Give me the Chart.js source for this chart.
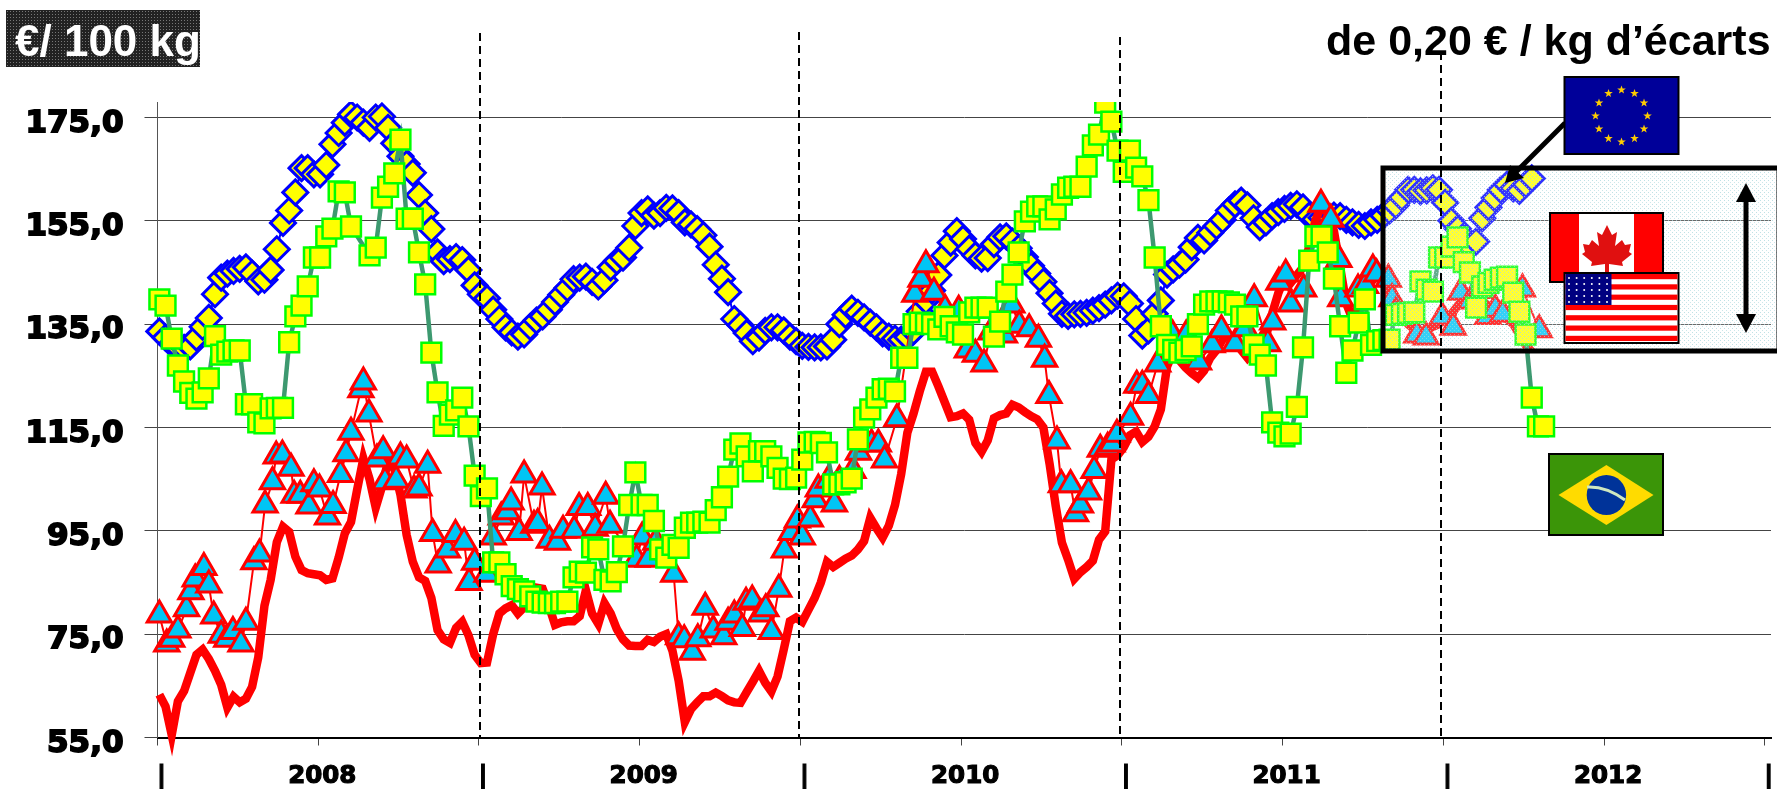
<!DOCTYPE html>
<html>
<head>
<meta charset="utf-8">
<script src="https://cdn.jsdelivr.net/npm/chart.js@4"></script>
<style>
  body { margin: 0; background: #fff; width: 1777px; height: 789px; overflow: hidden; position: relative; }
  canvas, svg { position: absolute; left: 0; top: 0; }
  .label { position: absolute; font-family: "Liberation Sans", Arial, sans-serif; font-weight: bold; font-size: 43px; white-space: nowrap; line-height: 50px; }
  #unit { left: 6px; top: 10px; width: 194px; height: 57px; box-sizing: border-box; padding: 6px 0 0 9px; font-size: 44px; color: #fff; background-color: #222; background-image: radial-gradient(#777 1px, transparent 1px); background-size: 3px 3px; }
  #gap { left: 1326px; top: 15px; color: #000; }
</style>
</head>
<body>
<canvas id="price_graph" width="1777" height="789"></canvas>
<svg id="overlay" width="1777" height="789"></svg>
<div id="unit" class="label">€/ 100 kg</div>
<div id="gap" class="label">de 0,20 € / kg d’écarts</div>
<script>
// weekly prices from January 2008, in euros per 100 kg
let eu_values = [133.6,132.4,131.2,130.5,130.4,130.7,132.4,134.5,136.2,140.8,144,144.8,145.3,145.7,146,144.8,143.3,143.6,145.5,149.5,154.6,157,160.5,165.2,165.2,164,164,165.8,169.8,172,174,175.6,175,174,173,175,175.2,173,170,167.5,166,164.3,160,156.5,153.4,148.9,147.2,147.6,148,147.4,145.5,142.5,140.8,140,137.8,136,134.4,133.4,132.6,133,134.5,135.7,136.5,137.8,139.3,140.7,142,143.7,144,144.2,143.2,142.3,143.5,146,147.2,147.9,149.8,154,156.5,157.2,156,156.5,157.5,157.4,156.5,154.7,154.3,153.4,152.2,150,146.5,143.8,141.2,136,134.8,133.3,131.7,132.4,133.7,134.4,134.4,133.8,132.6,131.7,130.8,130.6,130.5,130.5,130.7,132,135,136.8,138,137.2,136.3,135.3,134.4,133.2,132.6,132.2,132,132.5,133.6,137.5,139.5,141.5,144.5,148.3,150.8,153,151.5,149.6,148.3,147.7,147.8,150.5,151.8,152,151,149.7,148,146.3,144.8,143.2,141,139,137,136.6,136.9,137,137.2,137.6,138.1,138.8,139.6,140.5,140.4,139,136,132.8,133.8,137,139.6,144.6,145.6,146.5,147.5,149.9,151.7,151.2,152.7,154,155.2,157,158.2,158.9,158,155.5,153.8,154.7,155.9,156.7,157.3,157.9,158.2,157.6,156,155.3,155.6,155.9,156,155.9,155.2,154.7,154.2,154,154.7,155.2,156,157,158,159.5,161,161,160.7,160.9,161.3,161,158.5,155,153.5,152,150,151,155.5,157.6,159.4,161,162,161.3,160.8,162,163.2];
let brazil_values = [139.8,138.6,132.2,127,123.9,121.7,120.6,121.8,124.5,132.7,129.1,129.7,129.9,129.9,119.5,119.5,116,115.8,118.7,118.8,118.8,131.5,136.5,138.6,142.3,147.9,147.9,152,153.5,160.7,160.5,153.9,null,null,148.3,149.8,159.5,161.6,164.2,170.7,155.4,155.4,148.9,142.7,129.5,121.8,115.3,117.5,118.3,120.8,115.2,105.7,101.7,103.2,88.9,88.9,86.6,84.3,83.7,83.3,82.3,81.3,81.1,81,81,81.3,81.3,86,87.1,86.9,91.8,91.4,85.5,85.2,87,92,100,106.3,100,100,96.9,91.4,89.8,92.3,91.7,95.6,96.6,96.6,96.8,96.6,99,101.5,105.5,110.7,111.9,109.4,106.5,110.4,110.4,109.4,107.2,105.1,105,105.3,108.8,112.1,112.2,112,110.2,104,104,104.4,105.1,112.7,116.9,118.5,120.8,122.4,122.5,122,128.5,128.5,135,135.3,135.2,135,134,136.4,134.6,133.4,133,137.3,138.2,138.2,138.2,132.6,135.5,141.3,144.6,148.9,154.9,156.8,157.8,157.8,155.3,157.2,160.1,161.4,161.6,161.6,165.5,169.6,171.7,177.9,174.2,168.6,164.5,168.6,165.3,163.6,159,147.9,134.6,131,130,129.5,130,130.7,135,138.8,139.4,139.4,139.4,139.2,138.8,136.5,136.5,131,129.1,127,116,114,113.3,113.8,119,130.5,147.3,152,152,148.9,143.8,134.6,125.6,129.9,135.3,139.8,131,131.7,131.9,132,136.8,137,137.2,137.3,143.3,141.7,141.3,147.9,147.9,150,151.8,147,145,138.2,142.3,143,143.6,144,144.2,141.1,137.4,133,120.8,115.2,115.2];
let canada_values = [63.3,61,55.5,62,64,67.5,71,72,70.2,67.9,65.2,60.8,62.9,61.8,62.5,64.8,70.5,80.5,85.5,92.8,95.8,94.8,90,87.4,86.8,86.6,86.4,85.5,85.8,89.8,94.5,96.7,103,109,105,99.5,103.5,108.5,107,102,94.2,89,86,85.3,82,75.8,74,73.3,76.2,77.4,74.8,71,69.4,69.5,75,79,80,80.6,79,80.2,82,84,83.8,80.5,76.8,77.3,77.5,77.5,78.5,83.5,79,77,81,79,76,74,72.8,72.7,72.7,73.9,73.5,74.5,75,71.8,66,58,60.5,61.8,63,63,63.7,63,62.2,61.8,61.7,63.8,65.8,67.9,65.6,63.9,66.8,72,77.5,78.2,77.4,79.7,82,85,89,88,88.8,89.6,90.2,91.4,93,97.5,95.5,93.7,96,100,106,114,117.7,122,125.8,125.8,123,120,117,117.2,117.7,116.5,112,110.3,112.5,116.8,117.4,117.7,119.4,118.9,118,117.2,116.6,115,108,99.8,92.7,89.4,85.7,87,88,89.2,93.3,94.9,108.8,109.6,111.2,113.5,114.2,112.2,113.2,115.2,118.5,126.8,129.6,128,126.6,125.5,124.6,126,128.5,130,132,133,132,130,128.5,130,132,134,137,141,144,143,144.5,146,150,155,158,156.5,153,146,139,136,139,141,143,145,143,140,138,136.5,135,134,133.5,134,134.5,135,136,137,138.5,140,141,140.5,139.5,138.5,138,137,136,135,133,131,129.7];
// usa has its own weeks because its points are not evenly spaced in the picture
let usa_weeks = [0.3,1.5,2.3,3.3,4.7,5.4,6.1,7.5,8.3,9.1,10.3,11.2,12.2,13.5,14.3,15.6,16.5,17.4,18.6,19.2,20.2,21.6,22.1,23.1,24.5,25.3,26.2,27.5,28.4,29.6,30.5,31.3,32.9,33.3,34.2,35.5,36.5,36.8,38.6,39.3,40.3,41.5,42.3,43.7,44.5,45.4,46.9,48.2,49.6,50.4,51.3,53.3,54.3,55.6,56.6,57.2,58.5,59.3,60.9,61.5,62.2,63.4,64.7,65.6,67.4,68.2,69.6,70.8,72.5,73.2,77.5,78.4,79.4,80.6,83.5,84.3,85.2,86.5,87.4,88.6,89.9,91.6,92.3,93.3,94.6,95.2,96.2,97.6,98.4,99.3,100.5,101.4,102.5,103.5,104.3,105.6,106.4,106.9,108.5,109.5,110.3,112.5,113.4,115.5,116.6,117.6,119.6,122.5,123.5,124.3,125.6,127.4,129.6,131,132.3,133.7,134.8,137,138.2,139.4,141,142.5,143.5,144.2,145.5,146.2,147.7,148.5,149.3,150.6,151.5,152.5,153.7,154.4,155.2,157.4,158.4,159.3,160.3,161.8,164.2,166.4,168.4,170.6,172.1,174.3,175.9,177.4,179.6,180.4,181.4,182.5,183.3,185.4,188.2,189.8,191.1,191.4,194.2,195.4,196.6,197.2,199.1,199.7,200.3,203.7,205.2,207.8,209.6,210.8,212.4,214,215.2,216.4,217.6,220.8,223.5];
let usa_values = [79.2,73.6,74.5,76.3,80.4,83.7,86.2,88.4,85,79,75.3,74.5,76,73.6,77.8,89.5,91,100.5,105,110,110.2,107.6,102.4,102.4,100.3,104.6,103.6,98.2,100.4,106.4,110.4,114.6,122.8,124.3,118.1,109.4,111,105,105.3,109.8,109.2,103.4,103.8,108.2,95,88.9,91.8,94.8,93.3,85.5,89.4,87.1,94.3,98.2,99.2,101.1,95.2,106.3,96.6,96.9,104,93.7,93.3,95.6,95.6,100,100,96,102.2,96.6,90,94.3,90,93.3,87.1,75,74.4,72,74.6,80.7,76.3,75,77.8,79.2,76.6,81.7,82.1,79.4,80.4,76,84.2,91.8,95.2,97.6,94.3,97.8,101.5,103.6,105.3,100.7,105.3,107.2,110.7,112.3,112.3,109.2,117.2,141.3,144.2,147,141.7,138.4,138.2,130.5,129.7,127.8,134,133.4,139.2,135.3,134.6,132.6,128.7,121.7,112.9,104.4,104.4,98.8,100.5,103,107.2,111.3,111.7,112.3,114.2,117.5,123.7,123.7,121.7,127.8,133.4,133.4,128.2,131.5,134.4,131.7,134.6,140.4,131.7,135.9,143.6,145.2,139.4,142.3,158.7,155.8,148,140.4,142.3,143,146.2,145.2,144.2,140.4,137.8,133.4,133,136.9,134.9,141.7,140,142,137,138.4,137.4,142.3,134.4];

let y_ticks       = [55,75,95,115,135,155,175];
let y_tick_labels = ["55,0","75,0","95,0","115,0","135,0","155,0","175,0"];
let x_ticks       = [0,26,52,78,104,130,156,182,208,234,260];
let x_tick_labels = ["|","2008","|","2009","|","2010","|","2011","|","2012","|"];

function weekly(values){
    let points = [];
    for (let i=0; i<values.length; i++){
        points.push({x: i + 0.3, y: values[i]});
    }
    return points;
}

function draw_price_graph(){
    let usa_points = [];
    for (let i=0; i<usa_weeks.length; i++){
        // read at the middle of the triangle, the library centres it a little lower
        usa_points.push({x: usa_weeks[i], y: usa_values[i] - 0.5});
    }
    const free_edges = {left: 30, top: 0, right: 30, bottom: 30};

    const ctx     = document.getElementById("price_graph").getContext("2d");
    const myChart = new Chart(ctx, {
        type: "line",
        data: {
            datasets: [
                {
                    label: "Brésil",
                    data: weekly(brazil_values),
                    borderColor: "#3d9970",
                    borderWidth: 4.5,
                    pointStyle: "rect",
                    pointRadius: 14,
                    pointBorderColor: "#00ff00",
                    pointBackgroundColor: "#ffff00",
                    pointBorderWidth: 2.5,
                    spanGaps: true,
                    clip: free_edges,
                    order: 1
                },
                {
                    label: "USA",
                    data: usa_points,
                    borderColor: "#ff0000",
                    borderWidth: 2,
                    pointStyle: "triangle",
                    pointRadius: 14,
                    pointBorderColor: "#ff0000",
                    pointBackgroundColor: "#00c5f5",
                    pointBorderWidth: 3,
                    clip: free_edges,
                    order: 2
                },
                {
                    label: "Canada",
                    data: weekly(canada_values),
                    borderColor: "#ff0000",
                    borderWidth: 8.5,
                    pointRadius: 0,
                    clip: free_edges,
                    order: 3
                },
                {
                    label: "UE",
                    data: weekly(eu_values),
                    borderColor: "#0000ff",
                    borderWidth: 2,
                    pointStyle: "rectRot",
                    pointRadius: 12.5,
                    pointBorderColor: "#0000ff",
                    pointBackgroundColor: "#ffff00",
                    pointBorderWidth: 3,
                    clip: free_edges,
                    order: 4
                }
            ]
        },
        options: {
            responsive: false,
            animation: false,
            layout: {
                autoPadding: false,
                padding: {top: 102, right: 6}
            },
            elements: {
                line: {tension: 0}
            },
            scales: {
                x: {
                    type: "linear",
                    min: 0,
                    max: 261,
                    afterBuildTicks: (scale) => {
                        scale.ticks = x_ticks.map((v) => ({value: v}));
                    },
                    afterFit: (scale) => {
                        scale.height = 51.5;
                        // the label padding would otherwise eat into the right edge
                        scale.paddingLeft = 0;
                        scale.paddingRight = 0;
                    },
                    grid: {
                        drawOnChartArea: false,
                        tickLength: 8,
                        color: "#444"
                    },
                    border: {color: "#000", width: 2},
                    ticks: {
                        autoSkip: false,
                        maxRotation: 0,
                        padding: 16,
                        labelOffset: 4,
                        color: "#000",
                        textStrokeColor: "#000",
                        textStrokeWidth: 1.2,
                        font: {family: "DejaVu Sans", size: 24.5, weight: "bold"},
                        callback: (value, index) => x_tick_labels[index]
                    }
                },
                y: {
                    min: 55,
                    max: 178,
                    afterBuildTicks: (scale) => {
                        scale.ticks = y_ticks.map((v) => ({value: v}));
                    },
                    afterFit: (scale) => {
                        scale.width = 157.5;
                    },
                    grid: {
                        tickLength: 13,
                        color: "#444"
                    },
                    border: {color: "#555"},
                    ticks: {
                        padding: 21,
                        labelOffset: 6,
                        color: "#000",
                        textStrokeColor: "#000",
                        textStrokeWidth: 1.8,
                        font: {family: "DejaVu Sans", size: 31, weight: "bold"},
                        callback: (value, index) => y_tick_labels[index]
                    }
                }
            },
            plugins: {
                legend: {display: false},
                tooltip: {enabled: false}
            }
        }
    });
}

function star_points(cx, cy, r){
    let pts = [];
    for (let i=0; i<10; i++){
        let rad = i * Math.PI / 5 - Math.PI / 2;
        let len = i % 2 ? r * 0.4 : r;
        pts.push((cx + len * Math.cos(rad)).toFixed(1) + "," + (cy + len * Math.sin(rad)).toFixed(1));
    }
    return pts.join(" ");
}

function draw_overlay(){
    let svg = "";
    svg += '<defs><pattern id="hatch" width="4" height="4" patternUnits="userSpaceOnUse">'
         + '<rect width="4" height="4" fill="rgba(255,255,255,0.2)"/>'
         + '<rect width="1" height="1" fill="rgba(170,215,220,0.75)"/><rect x="2" y="2" width="1" height="1" fill="rgba(170,215,220,0.6)"/>'
         + '</pattern></defs>';

    // highlighted box first, the year separators run over it
    svg += '<rect x="1383" y="168" width="396" height="183" fill="url(#hatch)" stroke="#000" stroke-width="5"/>';

    let dashes = [[480,33],[799,32],[1120,37],[1441,52]];
    for (let d of dashes){
        svg += '<line x1="'+d[0]+'" y1="'+d[1]+'" x2="'+d[0]+'" y2="739" stroke="#000" stroke-width="2" stroke-dasharray="8 5"/>';
    }

    // EU flag and its arrow
    svg += '<line x1="1565" y1="123" x2="1515" y2="173" stroke="#000" stroke-width="5"/>';
    svg += '<polygon points="1505,183 1510,165 1524,178" fill="#000"/>';
    svg += '<rect x="1564.5" y="77" width="114" height="77" fill="#000099" stroke="#000" stroke-width="2"/>';
    for (let i=0; i<12; i++){
        let rad = i * Math.PI / 6;
        svg += '<polygon fill="#ffcc00" points="'+star_points(1621.5 + 26 * Math.sin(rad), 116 - 26 * Math.cos(rad), 4.5)+'"/>';
    }

    // Canada
    svg += '<rect x="1550" y="213" width="113" height="69" fill="#fff" stroke="#000" stroke-width="2"/>';
    svg += '<rect x="1551" y="214" width="28" height="67" fill="#f00"/><rect x="1634" y="214" width="28" height="67" fill="#f00"/>';
    svg += '<polygon fill="#e01010" points="1607,225 1612,235 1617,232 1615,246 1622,240 1625,245 1631,244 1629,252 1632,254 1622,262 1623,266 1609,264 1609,272 1605,272 1605,264 1591,266 1592,262 1582,254 1585,252 1583,244 1589,245 1592,240 1599,246 1597,232 1602,235"/>';

    // USA
    svg += '<rect x="1564.5" y="273" width="114" height="70" fill="#fff" stroke="#000" stroke-width="2"/>';
    for (let i=0; i<7; i++){
        svg += '<rect x="1565.5" y="'+(274 + i * 10.3)+'" width="112" height="5.2" fill="#f00"/>';
    }
    svg += '<rect x="1565.5" y="274" width="46" height="31" fill="#000080"/>';
    for (let r=0; r<5; r++){
        for (let c=0; c<6; c++){
            svg += '<circle cx="'+(1569 + c * 7.6)+'" cy="'+(278 + r * 6)+'" r="1" fill="#fff"/>';
        }
    }

    // Brazil
    svg += '<rect x="1549" y="454" width="114" height="81" fill="#3b9508" stroke="#000" stroke-width="2"/>';
    svg += '<polygon points="1558.5,495 1606.4,465 1653.5,495 1606.4,525" fill="#ffdb00"/>';
    svg += '<ellipse cx="1606.4" cy="495" rx="19.7" ry="20" fill="#003399"/>';
    svg += '<path d="M1587,487 Q1606,486 1625,500" fill="none" stroke="#cfe8c0" stroke-width="3"/>';

    // double arrow
    svg += '<line x1="1746" y1="195" x2="1746" y2="320" stroke="#000" stroke-width="5"/>';
    svg += '<polygon points="1746,183 1756,202 1736,202" fill="#000"/>';
    svg += '<polygon points="1746,333 1756,314 1736,314" fill="#000"/>';

    document.getElementById("overlay").innerHTML = svg;
}

draw_price_graph();
draw_overlay();
</script>
</body>
</html>
